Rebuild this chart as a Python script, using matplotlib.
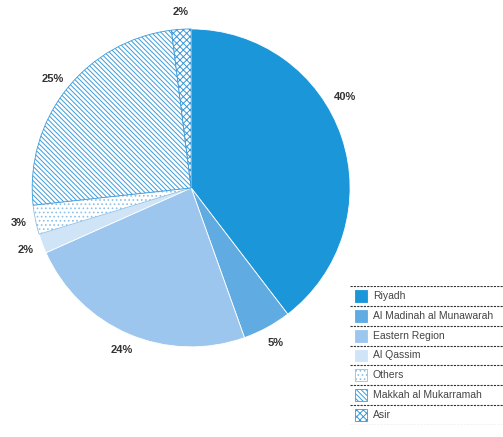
import matplotlib.pyplot as plt
from matplotlib.patches import Rectangle

plt.rcParams['font.family'] = ['Liberation Sans', 'DejaVu Sans']
plt.rcParams['hatch.linewidth'] = 0.7

# 数据
regions = ['Riyadh', 'Al Madinah al Munawarah', 'Eastern Region', 'Al Qassim',
           'Others', 'Makkah al Mukarramah', 'Asir']
shares = [40, 5, 24, 2, 3, 25, 2]
pct_labels = ['40%', '5%', '24%', '2%', '3%', '25%', '2%']

# 样式
faces = ['#1b96d9', '#5fabe2', '#9cc6ee', '#cfe4f7', 'white', 'white', 'white']
edges = ['white', 'white', 'white', 'white', '#8fc0e6', '#3d9cdb', '#3a98d8']
hatches = [None, None, None, None, '....', '\\\\\\\\\\\\\\', 'xxxxx']

fig = plt.figure(figsize=(5.03, 4.37), dpi=100)
ax = fig.add_axes([0.064, 0.206, 0.632, 0.728])

wedges, texts = ax.pie(shares, labels=pct_labels, startangle=90, counterclock=False,
                       labeldistance=1.11, radius=1.0,
                       wedgeprops=dict(linewidth=0.6),
                       textprops=dict(fontsize=8, fontweight='bold', color='#333333'))
for w, fc, ec, h in zip(wedges, faces, edges, hatches):
    w.set_facecolor(fc)
    w.set_edgecolor(ec)
    if h:
        w.set_hatch(h)
for t in texts:
    t.set_ha('center')
    t.set_va('center')
# 40% 标签位置偏上
texts[0].set_position((0.97, 0.57))
ax.set_xlim(-1, 1)
ax.set_ylim(-1, 1)
ax.set_aspect('equal')

# 图例
lax = fig.add_axes([350 / 503, 1 - 425 / 437, 153 / 503, 139 / 437])
lax.set_xlim(0, 1)
lax.set_ylim(len(regions), 0)
lax.axis('off')
for i, (name, fc, ec, h) in enumerate(zip(regions, faces, edges, hatches)):
    lax.add_patch(Rectangle((0.03, i + 0.2), 0.08, 0.6, facecolor=fc,
                            edgecolor=ec if h else fc, hatch=h, linewidth=0.6))
    lax.text(0.15, i + 0.5, name, fontsize=7.5, color='#444444', va='center')
for i in range(len(regions) + 1):
    lax.axhline(i, color='#333333', linewidth=0.8, linestyle=(0, (2, 1)))

fig.savefig('out.png', dpi=100)
